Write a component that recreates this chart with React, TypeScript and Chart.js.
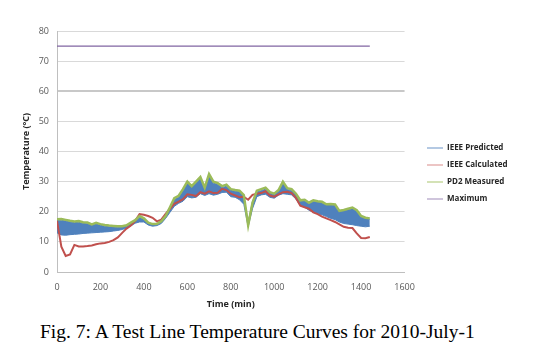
import React, { useEffect, useRef } from "react";
import { Chart, registerables } from "chart.js";

Chart.register(...registerables);

const timeMin = [
  0, 20, 40, 60, 80, 100, 120, 140, 160, 180, 200, 220, 240, 260, 280, 300, 320, 340, 360, 380,
  400, 420, 440, 460, 480, 500, 520, 540, 560, 580, 600, 620, 640, 660, 680, 700, 720, 740, 760, 780,
  800, 820, 840, 860, 880, 900, 920, 940, 960, 980, 1000, 1020, 1040, 1060, 1080, 1100, 1120, 1140,
  1160, 1180, 1200, 1220, 1240, 1260, 1280, 1300, 1320, 1340, 1360, 1380, 1400, 1420, 1440,
];

const pd2Measured = [
  17.5, 17.6, 17.3, 17.0, 16.8, 16.9, 16.5, 16.4, 15.8, 16.3, 15.9, 15.6, 15.4, 15.3, 15.2, 15.2, 15.5, 16.4, 17.2, 18.6,
  17.8, 16.4, 15.9, 16.0, 16.8, 18.6, 21.5, 24.5, 25.3, 27.5, 30.0, 28.5, 30.0, 31.5, 28.0, 32.5, 30.0, 29.5, 28.5, 29.0,
  27.5, 27.2, 27.0, 25.5, 15.5, 23.0, 27.0, 27.5, 28.0, 26.5, 26.0, 27.2, 30.0, 27.8, 27.5, 26.0, 23.8, 24.0,
  23.0, 23.8, 23.5, 23.3, 22.5, 22.6, 22.4, 20.3, 20.6, 21.0, 21.4, 20.5, 18.6, 18.0, 17.8,
];

const ieeePredictedHigh = [
  17.1, 17.2, 16.9, 16.6, 16.4, 16.5, 16.1, 16.0, 15.4, 15.9, 15.5, 15.2, 15.0, 14.9, 14.8, 14.9, 15.2, 16.1, 16.9, 18.2,
  17.4, 16.1, 15.6, 15.7, 16.5, 18.3, 21.0, 24.0, 24.8, 27.0, 29.6, 28.1, 29.6, 31.0, 27.5, 32.0, 29.5, 29.1, 28.0, 28.5,
  27.1, 26.8, 26.6, 25.0, 16.5, 23.5, 26.5, 27.0, 27.5, 26.2, 25.6, 26.8, 29.5, 27.4, 27.0, 25.6, 23.5, 23.7,
  22.7, 23.4, 23.2, 23.0, 22.2, 22.3, 22.0, 20.0, 20.3, 20.7, 21.0, 20.2, 18.3, 17.7, 17.5,
];

const ieeePredictedLow = [
  13.0, 12.3, 12.2, 12.4, 12.5, 12.6, 12.8, 12.9, 13.0, 13.1, 13.2, 13.3, 13.4, 13.6, 13.8, 14.1, 14.6, 15.3, 16.2, 16.6,
  16.6, 15.6, 15.2, 15.4, 16.1, 17.8, 19.8, 21.8, 22.8, 23.5, 25.0, 24.6, 24.8, 26.0, 25.4, 26.0, 25.5, 25.8, 26.4, 26.5,
  25.0, 24.8, 24.0, 22.5, 15.0, 21.0, 25.0, 25.6, 25.8, 24.8, 24.5, 25.5, 26.0, 25.8, 25.6, 24.2, 22.0, 21.5,
  20.5, 19.8, 19.4, 19.0, 18.4, 17.8, 17.4, 16.6, 16.1, 15.9, 15.7, 15.4, 15.2, 15.0, 15.2,
];

const ieeeCalculated = [
  17.0, 8.4, 5.3, 5.8, 9.0, 8.5, 8.5, 8.6, 8.8, 9.2, 9.5, 9.6, 10.0, 10.6, 11.5, 13.0, 14.4, 15.4, 17.0, 19.2,
  19.0, 18.6, 18.0, 16.8, 17.4, 19.3, 21.0, 22.6, 23.4, 24.2, 25.8, 25.6, 25.2, 26.5, 26.0, 26.8, 26.2, 26.3, 27.6, 27.2,
  26.0, 25.4, 24.8, 25.0, 24.0, 25.6, 26.0, 26.2, 26.8, 25.4, 25.0, 25.8, 26.5, 26.6, 26.2, 24.6, 22.0, 21.5,
  21.0, 19.8, 19.2, 18.4, 17.8, 17.2, 16.6, 15.8, 15.0, 14.7, 14.6, 12.8, 11.3, 11.2, 11.6,
];

const maximumTime = [0, 1440];
const maximumValue = [75, 75];

const seriesLabels = ["IEEE Predicted", "IEEE Calculated", "PD2 Measured", "Maximum"];
const yMin = 0;
const yMax = 80;
const yStep = 10;
const xMin = 0;
const xMax = 1600;
const xStep = 200;

const toPoints = (xs: number[], ys: number[]) => xs.map((x, i) => ({ x, y: ys[i] }));

const BLUE = "#4F81BD";
const RED = "#C0504D";
const GREEN = "#9BBB59";
const PURPLE = "#8064A2";
const LEGEND_SWATCH = ["#6A93C8", "#D98C8A", "#A9C56E", "#9F8BBA"];

const LEGEND_X = 427;
const LEGEND_Y = 144;
const SANS = "'Open Sans', Lato, 'Noto Sans', sans-serif";

const legendPlace = {
  id: "legendPlace",
  afterLayout(chart: any) {
    const l = chart.legend;
    if (!l) return;
    const pad = l.options.labels.padding;
    const dx = LEGEND_X - (l.left + pad);
    l.left += dx;
    l.right += dx;
    const h = l.bottom - l.top;
    l.top = LEGEND_Y - pad;
    l.bottom = l.top + h;
  },
};

export default function App() {
  const ref = useRef<HTMLCanvasElement | null>(null);

  useEffect(() => {
    if (!ref.current) return;
    const chart = new Chart(ref.current, {
      type: "line",
      data: {
        datasets: [
          {
            label: seriesLabels[0],
            data: toPoints(timeMin, ieeePredictedHigh),
            borderColor: BLUE,
            backgroundColor: BLUE,
            borderWidth: 1,
            pointRadius: 0,
            fill: false,
            order: 4,
          },
          {
            label: "",
            data: toPoints(timeMin, ieeePredictedLow),
            borderColor: BLUE,
            backgroundColor: BLUE,
            borderWidth: 1,
            pointRadius: 0,
            fill: "-1",
            order: 5,
          },
          {
            label: seriesLabels[1],
            data: toPoints(timeMin, ieeeCalculated),
            borderColor: RED,
            backgroundColor: RED,
            borderWidth: 2,
            pointRadius: 0,
            fill: false,
            order: 2,
          },
          {
            label: seriesLabels[2],
            data: toPoints(timeMin, pd2Measured),
            borderColor: GREEN,
            backgroundColor: GREEN,
            borderWidth: 2.5,
            pointRadius: 0,
            fill: false,
            order: 1,
          },
          {
            label: seriesLabels[3],
            data: toPoints(maximumTime, maximumValue),
            borderColor: PURPLE,
            backgroundColor: PURPLE,
            borderWidth: 1.2,
            pointRadius: 0,
            fill: false,
            order: 0,
          },
        ],
      },
      options: {
        animation: false,
        responsive: true,
        maintainAspectRatio: false,
        layout: { padding: { top: 31, left: 0, right: 34, bottom: 0 } },
        plugins: {
          legend: {
            position: "right",
            align: "start",
            labels: {
              boxWidth: 16,
              boxHeight: 1,
              padding: 9,
              color: "#262626",
              font: { family: SANS, size: 8, weight: "bold" },
              generateLabels: (c: any) =>
                Chart.defaults.plugins.legend.labels
                  .generateLabels(c)
                  .map((it: any) => ({
                    ...it,
                    fillStyle: LEGEND_SWATCH[seriesLabels.indexOf(it.text)] || it.fillStyle,
                    strokeStyle: "rgba(0,0,0,0)",
                    lineWidth: 0,
                  })),
              filter: (it: any) => it.text !== "",
              sort: (a: any, b: any) => a.datasetIndex - b.datasetIndex,
            },
          },
          tooltip: { enabled: false },
        },
        scales: {
          x: {
            type: "linear",
            min: xMin,
            max: xMax,
            afterFit: (s: any) => {
              s.height = 46;
            },
            ticks: {
              stepSize: xStep,
              padding: 10.5,
              color: "#595959",
              font: { family: SANS, size: 9 },
              maxRotation: 0,
              callback: (v: any) => String(v),
            },
            grid: { display: false, drawTicks: false },
            border: { display: true, color: "#BFBFBF", width: 1 },
            title: {
              display: true,
              text: "Time (min)",
              color: "#262626",
              font: { family: SANS, size: 9, weight: "bold" },
              padding: { top: 0, bottom: 8.5 },
            },
          },
          y: {
            min: yMin,
            max: yMax,
            afterFit: (s: any) => {
              s.width = 57;
            },
            ticks: {
              stepSize: yStep,
              padding: 8,
              color: "#595959",
              font: { family: SANS, size: 9 },
            },
            grid: {
              color: (ctx: any) => (ctx.tick && ctx.tick.value === 60 ? "#C8C8C8" : "#D9D9D9"),
              lineWidth: (ctx: any) => (ctx.tick && ctx.tick.value === 60 ? 2 : 1),
              drawTicks: false,
            },
            border: { display: true, color: "#BFBFBF", width: 1 },
            title: {
              display: true,
              text: "Temperature (°C)",
              color: "#262626",
              font: { family: SANS, size: 9, weight: "bold" },
              padding: { top: 21, bottom: 0 },
            },
          },
        },
      },
      plugins: [legendPlace],
    } as any);
    return () => chart.destroy();
  }, []);

  return (
    <div style={{ position: "absolute", left: 0, top: 0, width: 538, height: 352, background: "#fff" }}>
      <div style={{ position: "absolute", left: 0, top: 0, width: 538, height: 318 }}>
        <canvas ref={ref} />
      </div>
      <div
        style={{
          position: "absolute",
          left: 40,
          top: 321,
          whiteSpace: "nowrap",
          fontFamily: "'Liberation Serif', 'Times New Roman', serif",
          fontSize: 19.5,
          lineHeight: "22px",
          color: "#000",
        }}
      >
        Fig. 7: A Test Line Temperature Curves for 2010-July-1
      </div>
    </div>
  );
}
